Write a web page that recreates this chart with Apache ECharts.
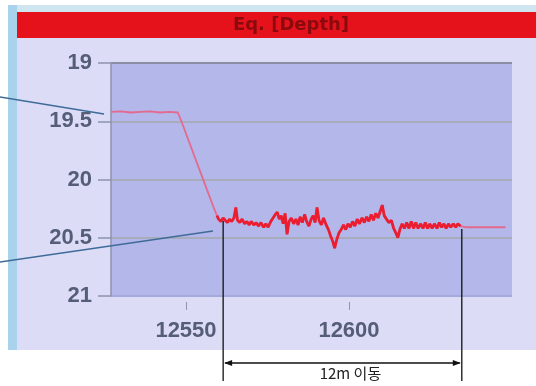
<!DOCTYPE html>
<html>
<head>
<meta charset="utf-8">
<script src="https://cdn.jsdelivr.net/npm/echarts@6/dist/echarts.min.js"></script>
<style>
html,body{margin:0;padding:0;background:#ffffff;}
#chart{width:536px;height:386px;}
</style>
</head>
<body>
<div id="chart"></div>
<script>
// ---- data ----
const chartTitle = 'Eq. [Depth]';
const moveLabel = '12m 이동';
const xTicks = [12550, 12600];
const yTicks = [19, 19.5, 20, 20.5, 21];
const xRange = [12527, 12650];
const markers = [12561.4, 12634.6];

const distance = [
  12527, 12530, 12533, 12536, 12539, 12542, 12545, 12547.5,
  12549, 12551, 12553, 12555, 12557, 12558.5, 12559.5,
  12560, 12560.7, 12561.4, 12562, 12562.7, 12563.3, 12564, 12564.7, 12565.3, 12565.8,
  12566.5, 12567.2, 12568, 12568.7, 12569.4, 12570, 12570.8, 12571.5, 12572.2, 12573,
  12573.8, 12574.5, 12575.2, 12576, 12576.7, 12577.4, 12578, 12578.6, 12579.2, 12579.8,
  12580.4, 12581, 12581.6, 12582.3, 12583, 12583.7, 12584.4, 12585, 12585.7, 12586.4,
  12587, 12587.7, 12588.4, 12589, 12589.6, 12590.2, 12590.8, 12591.5, 12592.2, 12593,
  12593.7, 12594.3, 12595, 12595.6, 12596.2, 12596.9, 12597.6, 12598.3, 12599, 12599.7,
  12600.4, 12601.1, 12601.8, 12602.5, 12603.2, 12604, 12604.7, 12605.4, 12606.1, 12606.8,
  12607.5, 12608.2, 12608.9, 12609.6, 12610.2, 12610.8, 12611.5, 12612.2, 12613, 12613.7,
  12614.4, 12615, 12615.6, 12616.3, 12617, 12617.7, 12618.4, 12619.1, 12619.8, 12620.5,
  12621.2, 12622, 12622.7, 12623.4, 12624.1, 12624.8, 12625.5, 12626.2, 12627, 12627.7,
  12628.4, 12629.1, 12629.8, 12630.5, 12631.2, 12632, 12632.7, 12633.4, 12634.2,
  12636, 12640, 12644, 12648
];
const depth = [
  19.42, 19.415, 19.425, 19.42, 19.415, 19.425, 19.42, 19.425,
  19.53, 19.68, 19.83, 19.98, 20.13, 20.24, 20.31,
  20.34, 20.36, 20.33, 20.35, 20.37, 20.34, 20.36, 20.33, 20.24, 20.35,
  20.37, 20.34, 20.38, 20.36, 20.39, 20.36, 20.39, 20.37, 20.40, 20.37,
  20.41, 20.38, 20.41, 20.36, 20.33, 20.30, 20.28, 20.34, 20.31, 20.38,
  20.29, 20.47, 20.36, 20.33, 20.38, 20.34, 20.39, 20.32, 20.37, 20.30,
  20.36, 20.40, 20.34, 20.31, 20.37, 20.24, 20.35, 20.39, 20.33, 20.39,
  20.43, 20.48, 20.53, 20.59, 20.52, 20.46, 20.43, 20.39, 20.43, 20.38,
  20.41, 20.36, 20.40, 20.34, 20.38, 20.33, 20.37, 20.32, 20.36, 20.30,
  20.35, 20.29, 20.33, 20.27, 20.22, 20.31, 20.34, 20.37, 20.35, 20.42,
  20.46, 20.50, 20.43, 20.38, 20.42, 20.37, 20.42, 20.36, 20.42, 20.37,
  20.42, 20.38, 20.42, 20.37, 20.42, 20.38, 20.42, 20.38, 20.42, 20.37,
  20.41, 20.38, 20.42, 20.38, 20.41, 20.38, 20.41, 20.38, 20.40,
  20.41, 20.41, 20.41, 20.41
];

const chart = echarts.init(document.getElementById('chart'));
const allPts = distance.map((d, i) => [d, depth[i]]);
const noisyPts = allPts.filter(p => p[0] >= 12559.5 && p[0] <= 12634.2);

function depthAt(x) {
  let best = 0;
  for (let i = 0; i < distance.length; i++) {
    if (Math.abs(distance[i] - x) < Math.abs(distance[best] - x)) best = i;
  }
  return depth[best];
}

const labelFont = {fontFamily: 'Liberation Sans', fontWeight: 'bold', fontSize: 22, color: '#565d78'};

chart.setOption({
  animation: false,
  backgroundColor: 'transparent',
  graphic: [
    {type: 'rect', z: -100, shape: {x: 8, y: 5, width: 528, height: 345}, style: {fill: '#dcdcf6'}},
    {type: 'rect', z: -99, shape: {x: 8, y: 5, width: 9, height: 345}, style: {fill: '#a9d3ec'}},
    {type: 'rect', z: -99, shape: {x: 17, y: 5, width: 519, height: 7}, style: {fill: '#cfe6f0'}},
    {type: 'rect', z: -99, shape: {x: 17, y: 12, width: 519, height: 26}, style: {fill: '#e6121b'}},
    {type: 'text', z: 50, x: 291, y: 25, style: {text: chartTitle, fill: '#8a0a0e', font: 'bold 18px "DejaVu Sans"', align: 'center', verticalAlign: 'middle'}}
  ],
  grid: {
    left: 111, top: 63, width: 401, height: 233,
    show: true, backgroundColor: '#b3b7ea', borderWidth: 0
  },
  xAxis: {
    type: 'value', min: xRange[0], max: xRange[1], offset: 6,
    axisLine: {show: false},
    splitLine: {show: false},
    axisTick: {show: true, customValues: xTicks, length: 8, lineStyle: {color: '#9096ae', width: 1}},
    axisLabel: Object.assign({customValues: xTicks, margin: 18, formatter: v => String(v)}, labelFont)
  },
  yAxis: {
    type: 'value', inverse: true, min: yTicks[0], max: yTicks[yTicks.length - 1], interval: 0.5,
    axisLine: {show: true, lineStyle: {color: '#8e93ad', width: 1.5}},
    axisTick: {show: true, length: 13, lineStyle: {color: '#8e93ad', width: 1.5}},
    axisLabel: Object.assign({margin: 19, formatter: v => String(v)}, labelFont),
    splitLine: {show: true, lineStyle: {color: ['#8a8ea2', '#a8abbb', '#a8abbb', '#a8abbb', '#a6aad8'], width: 2}}
  },
  series: [
    {type: 'line', data: allPts, showSymbol: false, symbol: 'none',
     lineStyle: {width: 1.8, color: '#e3698f'}, z: 2},
    {type: 'line', data: noisyPts, showSymbol: false, symbol: 'none',
     lineStyle: {width: 2.8, color: '#ea1e30'}, z: 3}
  ]
});

// annotations placed through the chart's own scales
const pxTop = markers.map(m => chart.convertToPixel({gridIndex: 0}, [m, depthAt(m)]));
const xL = pxTop[0][0], xR = pxTop[1][0];
const arrowY = 363, bottomY = 381;
const ann = [
  {type: 'line', z: 100, shape: {x1: 0, y1: 97, x2: 104, y2: 114}, style: {stroke: '#3f6b98', lineWidth: 1.6}},
  {type: 'line', z: 100, shape: {x1: 0, y1: 262, x2: 213, y2: 231}, style: {stroke: '#3f6b98', lineWidth: 1.6}},
  {type: 'line', z: 100, shape: {x1: xL, y1: pxTop[0][1] + 3, x2: xL, y2: bottomY}, style: {stroke: '#111', lineWidth: 1.3}},
  {type: 'line', z: 100, shape: {x1: xR, y1: pxTop[1][1] + 3, x2: xR, y2: bottomY}, style: {stroke: '#111', lineWidth: 1.3}},
  {type: 'line', z: 100, shape: {x1: xL + 2, y1: arrowY, x2: xR - 2, y2: arrowY}, style: {stroke: '#111', lineWidth: 1.3}},
  {type: 'polygon', z: 100, shape: {points: [[xL + 1, arrowY], [xL + 9, arrowY - 3], [xL + 9, arrowY + 3]]}, style: {fill: '#111'}},
  {type: 'polygon', z: 100, shape: {points: [[xR - 1, arrowY], [xR - 9, arrowY - 3], [xR - 9, arrowY + 3]]}, style: {fill: '#111'}},
  {type: 'text', z: 100, x: (xL + xR) / 2 + 8, y: 373, style: {text: moveLabel, fill: '#222', font: '15px "Noto Sans CJK KR"', align: 'center', verticalAlign: 'middle'}}
];
chart.setOption({graphic: ann.map((g, i) => Object.assign({id: 'ann' + i}, g))});
</script>
</body>
</html>
